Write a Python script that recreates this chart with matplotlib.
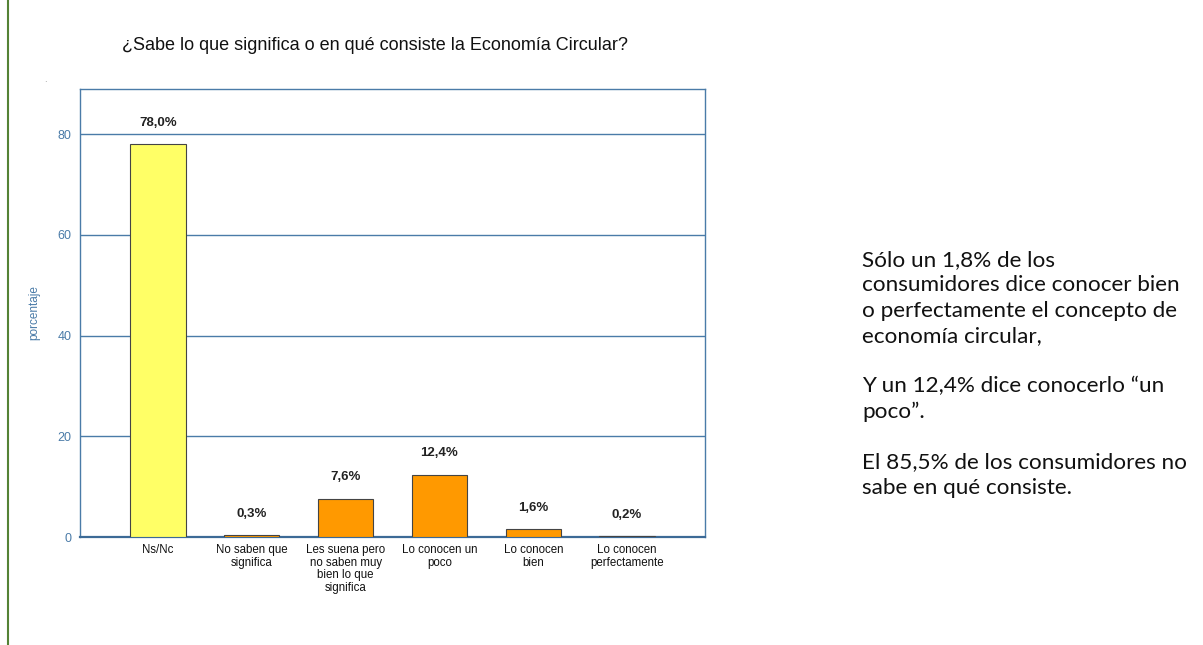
import matplotlib
matplotlib.use("Agg")
import matplotlib.pyplot as plt
from matplotlib.lines import Line2D

categories = ["Ns/Nc", "No saben que\nsignifica", "Les suena pero\nno saben muy\nbien lo que\nsignifica",
              "Lo conocen un\npoco", "Lo conocen\nbien", "Lo conocen\nperfectamente"]
values = [78.0, 0.3, 7.6, 12.4, 1.6, 0.2]
value_labels = ["78,0%", "0,3%", "7,6%", "12,4%", "1,6%", "0,2%"]
yticks = [0, 20, 40, 60, 80]
colors = ["#FFFF66", "#FF9900", "#FF9900", "#FF9900", "#FF9900", "#FF9900"]

title = "¿Sabe lo que significa o en qué consiste la Economía Circular?"
side_lines = ["Sólo un 1,8% de los", "consumidores dice conocer bien", "o perfectamente el concepto de",
              "economía circular,", "", "Y un 12,4% dice conocerlo “un", "poco”.", "",
              "El 85,5% de los consumidores no", "sabe en qué consiste."]

NARROW = ["Liberation Sans Narrow", "Liberation Sans", "DejaVu Sans"]

W, H = 1203, 645
fig = plt.figure(figsize=(W / 100, H / 100), dpi=100)
fig.patch.set_facecolor("white")

axc = "#4A7BA8"
ax = fig.add_axes([80 / W, 1 - 537 / H, (705 - 80) / W, (537 - 89) / H])
x = list(range(len(values)))
ax.bar(x, values, width=0.59, color=colors, edgecolor="#444444", linewidth=0.8, zorder=3)
ax.set_xlim(-0.83, len(values) - 1 + 0.83)
ax.set_ylim(0, 89)
ax.set_yticks(yticks)
ax.set_yticklabels([str(t) for t in yticks], fontsize=9, color="#4A7BA8", family=NARROW)
ax.yaxis.grid(True, color=axc, linewidth=1.0, zorder=1)
ax.tick_params(axis="y", length=0, pad=6)
ax.tick_params(axis="x", length=0, pad=5)
ax.set_xticks(x)
ax.set_xticklabels(categories, fontsize=8.3, color="#111111", linespacing=1.08, family=NARROW)
for s in ax.spines.values():
    s.set_color(axc)
    s.set_linewidth(1.0)
ax.spines["bottom"].set_color("#3C6A96")
ax.spines["bottom"].set_linewidth(1.6)
ax.set_ylabel("porcentaje", fontsize=8.5, color="#4A7BA8", family=NARROW)
ax.yaxis.set_label_coords((40 - 80) / 625, 0.5)
for xi, v, lab in zip(x, values, value_labels):
    ax.annotate(lab, (xi, v), xytext=(0, 11), textcoords="offset points", ha="center", va="bottom",
                fontsize=9.5, fontweight="bold", color="#222222", family=NARROW)

fig.text(375 / W, 1 - 45 / H, title, ha="center", va="center", fontsize=13, color="#111111",
         family=["Liberation Sans", "DejaVu Sans"])
fig.text(45 / W, 1 - 80 / H, ".", ha="center", va="center", fontsize=6, color="#888888")

fig.add_artist(Line2D([8 / W, 8 / W], [0, 1], color="#548235", linewidth=1.5))

y0, step = 266, 25.3
for i, line in enumerate(side_lines):
    if line:
        fig.text(862 / W, 1 - (y0 + i * step) / H, line, ha="left", va="baseline", fontsize=16.2,
                 color="#111111", family=["Lato", "DejaVu Sans"])

fig.savefig("out.png", dpi=100, facecolor="white")
